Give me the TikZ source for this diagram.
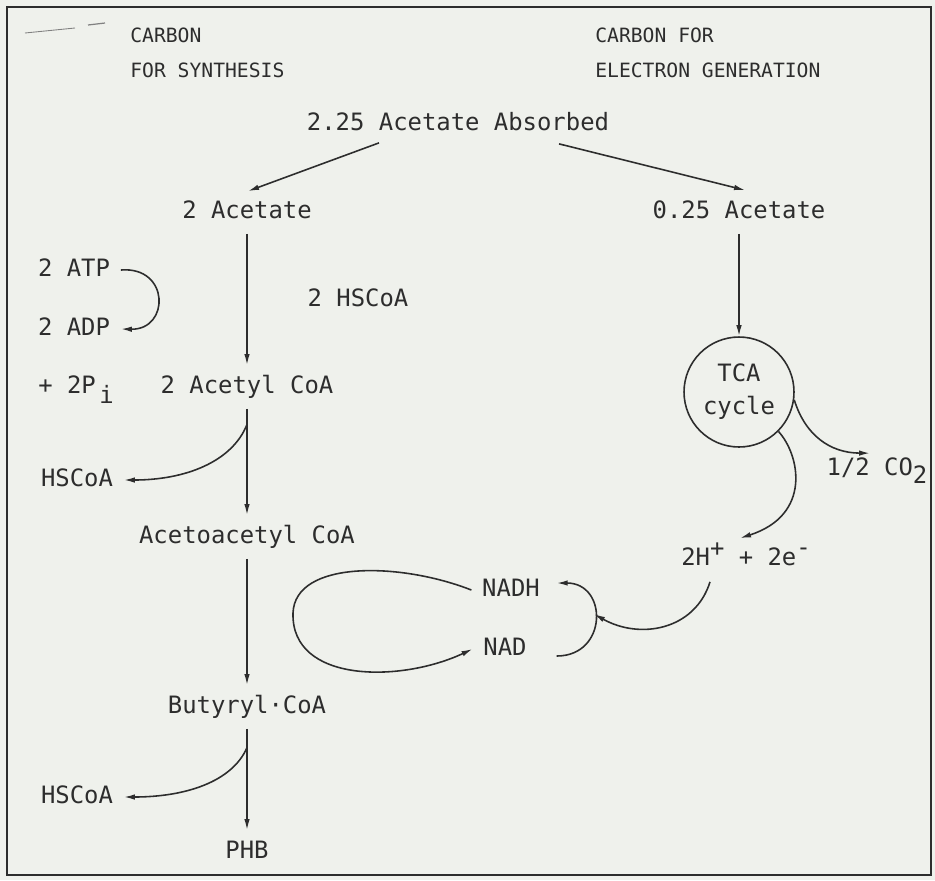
\documentclass[tikz,border=0pt]{standalone}
\usepackage{fontspec}
\setmainfont{DejaVu Sans Mono}
\usetikzlibrary{arrows.meta,calc}
\definecolor{paper}{RGB}{239,241,236}
\definecolor{ink}{RGB}{45,45,45}

\begin{document}
\begin{tikzpicture}[
  x=0.02cm, y=-0.02cm,
  >={Latex[length=2.2mm,width=1.1mm]},
  line/.style={->, line width=0.9pt, ink},
  chem/.style={
    text=ink, inner sep=6pt, text height=10pt, text depth=2.5pt,
    font=\fontsize{13.6}{16}\selectfont
  },
  head/.style={
    text=ink, anchor=west, inner sep=0pt,
    font=\fontsize{11.2}{14}\selectfont
  },
  cycNode/.style={
    circle, draw=ink, line width=0.9pt, minimum size=2.2cm,
    inner sep=0pt, align=center, text=ink,
    font=\fontsize{13.6}{18.7}\selectfont
  }
]

% --- Fundo e moldura ---
\fill[paper] (0,0) rectangle (935,880);
\useasboundingbox (0,0) rectangle (935,880);
\draw[ink, line width=1pt] (7,7) rectangle (931,875);
\draw[ink!60, line width=0.5pt] (25,33) -- (75,28);
\draw[ink!60, line width=0.7pt] (88,25) -- (105,23);

% --- Titulos ---
\node[head] (hdSyn1) at (130,35) {CARBON};
\node[head] (hdSyn2) at (130,70) {FOR SYNTHESIS};
\node[head] (hdEl1) at (595,35) {CARBON FOR};
\node[head] (hdEl2) at (595,70) {ELECTRON GENERATION};

% --- Coluna de sintese ---
\node[chem] (absorbed) at (458,124) {2.25 Acetate Absorbed};
\node[chem] (acet2) at (247,212) {2 Acetate};
\node[chem] (acetyl) at (247,387) {2 Acetyl CoA};
\node[chem] (acetoac) at (247,537) {Acetoacetyl CoA};
\node[chem] (butyryl) at (247,707) {Butyryl·CoA};
\node[chem] (phb) at (247,852) {PHB};

% --- Cofatores ---
\node[chem] (atp) at (74,270) {2 ATP};
\node[chem] (adp) at (74,329) {2 ADP};
\node[chem] (pi) at (76,387) {+ 2P\kern2pt\raisebox{-5.5pt}{i}};
\node[chem] (hsc2) at (358,300) {2 HSCoA};
\node[chem] (hsc1) at (77,480) {HSCoA};
\node[chem] (hsc3) at (77,797) {HSCoA};

% --- Coluna de eletrons ---
\node[chem] (acet025) at (739,212) {0.25 Acetate};
\node[cycNode] (tca) at (739,392) {TCA\\cycle};
\node[chem] (co2) at (877,469) {1/2 CO\raisebox{-4.5pt}{2}};
\node[chem] (h2e) at (746,559) {2H\raisebox{5pt}{+} + 2e\raisebox{6pt}{-}};
\node[chem] (nadh) at (511,590) {NADH};
\node[chem] (nad) at (505,649) {NAD};
\coordinate (jn) at (594,614);

% --- Setas principais ---
\draw[line] ($(absorbed.south)+(-79,-3)$) -- ($(acet2.north)+(1,1)$);
\draw[line] ($(absorbed.south)+(101,-2)$) -- ($(acet025.north)+(6,0)$);
\draw[line] (acet2) -- (acetyl);
\draw[line] (acetyl) -- (acetoac);
\draw[line] (acetoac) -- (butyryl);
\draw[line] (butyryl) -- (phb);
\draw[line] (acet025) -- (tca);

% --- Ramos laterais ---
\draw[line] (atp.east) .. controls (170,266) and (170,330) .. (adp.east);
\draw[line] ($(acetyl)!0.25!(acetoac)$)
  .. controls (232,462) and (185,480) .. (hsc1.east);
\draw[line] ($(butyryl)!0.28!(phb)$)
  .. controls (232,782) and (185,797) .. (hsc3.east);

% --- Ciclo TCA ---
\draw[line] (tca.-8) .. controls (805,435) and (830,453) .. ($(co2.north)+(-7,6)$);
\draw[line] (tca.-45) .. controls (800,455) and (812,515) .. ($(h2e.north)+(-6,1)$);
\draw[line] ($(h2e.south)+(-36,1)$) .. controls (695,630) and (640,640) .. (jn);

% --- NADH / NAD ---
\draw[line] ($(nadh.east)+(6,66)$) .. controls (608,656) and (608,583) .. ($(nadh.east)+(6,-7)$);
\draw[line] (nadh.west) .. controls (400,562) and (295,560) .. (293,613)
  .. controls (291,683) and (400,683) .. (nad.west);

\end{tikzpicture}
\end{document}
